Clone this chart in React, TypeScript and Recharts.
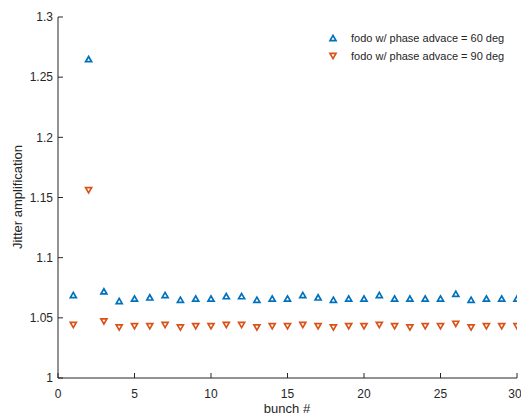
import { ScatterChart, Scatter, XAxis, YAxis, Label } from "recharts";

const bunches = [
  1, 2, 3, 4, 5, 6, 7, 8, 9, 10, 11, 12, 13, 14, 15,
  16, 17, 18, 19, 20, 21, 22, 23, 24, 25, 26, 27, 28, 29, 30,
];

// fodo, 60 deg phase advance
const phase60 = [
  1.069, 1.265, 1.072, 1.064, 1.066, 1.067, 1.069, 1.065, 1.066, 1.066,
  1.068, 1.068, 1.065, 1.066, 1.066, 1.069, 1.067, 1.065, 1.066, 1.066,
  1.069, 1.066, 1.066, 1.066, 1.066, 1.070, 1.065, 1.066, 1.066, 1.066,
];

// fodo, 90 deg phase advance
const phase90 = [
  1.044, 1.156, 1.047, 1.042, 1.043, 1.043, 1.044, 1.042, 1.043, 1.043,
  1.044, 1.044, 1.042, 1.043, 1.043, 1.044, 1.043, 1.042, 1.043, 1.043,
  1.044, 1.043, 1.042, 1.043, 1.043, 1.045, 1.042, 1.043, 1.043, 1.043,
];

const xTicks = [0, 5, 10, 15, 20, 25, 30];
const yTicks = [1, 1.05, 1.1, 1.15, 1.2, 1.25, 1.3];

const BLUE = "#0072BD";
const ORANGE = "#D95319";
const AXIS = "#262626";
const FONT = "'Liberation Sans', Arial, sans-serif";

const data60 = bunches.map((b, i) => ({ x: b, y: phase60[i] }));
const data90 = bunches.map((b, i) => ({ x: b, y: phase90[i] }));

const triangle = (color: string, up: boolean) => (props: any) => {
  const { cx, cy } = props;
  if (cx == null || cy == null) return <g />;
  const h = 2.6;
  const w = 3;
  const pts = up
    ? `${cx},${cy - h} ${cx + w},${cy + h} ${cx - w},${cy + h}`
    : `${cx},${cy + h} ${cx + w},${cy - h} ${cx - w},${cy - h}`;
  return <polygon points={pts} fill="#fff" stroke={color} strokeWidth={1.7} strokeLinejoin="miter" />;
};

const legendRows = [
  { label: "fodo w/ phase advace = 60 deg", color: BLUE, up: true },
  { label: "fodo w/ phase advace = 90 deg", color: ORANGE, up: false },
];

const LegendBox = () => (
  <div
    style={{
      position: "absolute",
      left: 326,
      top: 29,
      fontFamily: FONT,
      fontSize: 11,
      color: AXIS,
      whiteSpace: "nowrap",
    }}
  >
    {legendRows.map((r) => (
      <div key={r.label} style={{ display: "flex", alignItems: "center", height: 18 }}>
        <svg width={14} height={10} style={{ marginRight: 11 }}>
          {triangle(r.color, r.up)({ cx: 7, cy: 5 })}
        </svg>
        <span>{r.label}</span>
      </div>
    ))}
  </div>
);

export default function App() {
  return (
    <div style={{ position: "absolute", left: 0, top: 0, width: 521, height: 414, background: "#fff" }}>
      <ScatterChart
        width={521}
        height={414}
        margin={{ top: 17, right: 4, bottom: 0, left: 0 }}
        style={{ fontFamily: FONT }}
      >
        <XAxis
          type="number"
          dataKey="x"
          domain={[0, 30]}
          ticks={xTicks}
          height={36}
          tickSize={-5}
          tickMargin={16}
          stroke={AXIS}
          tick={{ fill: AXIS, fontSize: 12 }}
          allowDataOverflow
        >
          <Label
            content={() => (
              <text x={287} y={413} textAnchor="middle" fill={AXIS} fontSize={13} fontFamily={FONT}>
                bunch #
              </text>
            )}
          />
        </XAxis>
        <YAxis
          type="number"
          dataKey="y"
          domain={[1, 1.3]}
          ticks={yTicks}
          width={58}
          tickSize={-5}
          tickMargin={10}
          stroke={AXIS}
          tick={{ fill: AXIS, fontSize: 12 }}
          allowDataOverflow
        >
          <Label
            content={() => (
              <text
                x={22}
                y={197}
                textAnchor="middle"
                fill={AXIS}
                fontSize={13}
                fontFamily={FONT}
                transform="rotate(-90 22 197)"
              >
                Jitter amplification
              </text>
            )}
          />
        </YAxis>
        <Scatter
          name="fodo w/ phase advace = 60 deg"
          data={data60}
          shape={triangle(BLUE, true)}
          isAnimationActive={false}
        />
        <Scatter
          name="fodo w/ phase advace = 90 deg"
          data={data90}
          shape={triangle(ORANGE, false)}
          isAnimationActive={false}
        />
      </ScatterChart>
      <LegendBox />
    </div>
  );
}
